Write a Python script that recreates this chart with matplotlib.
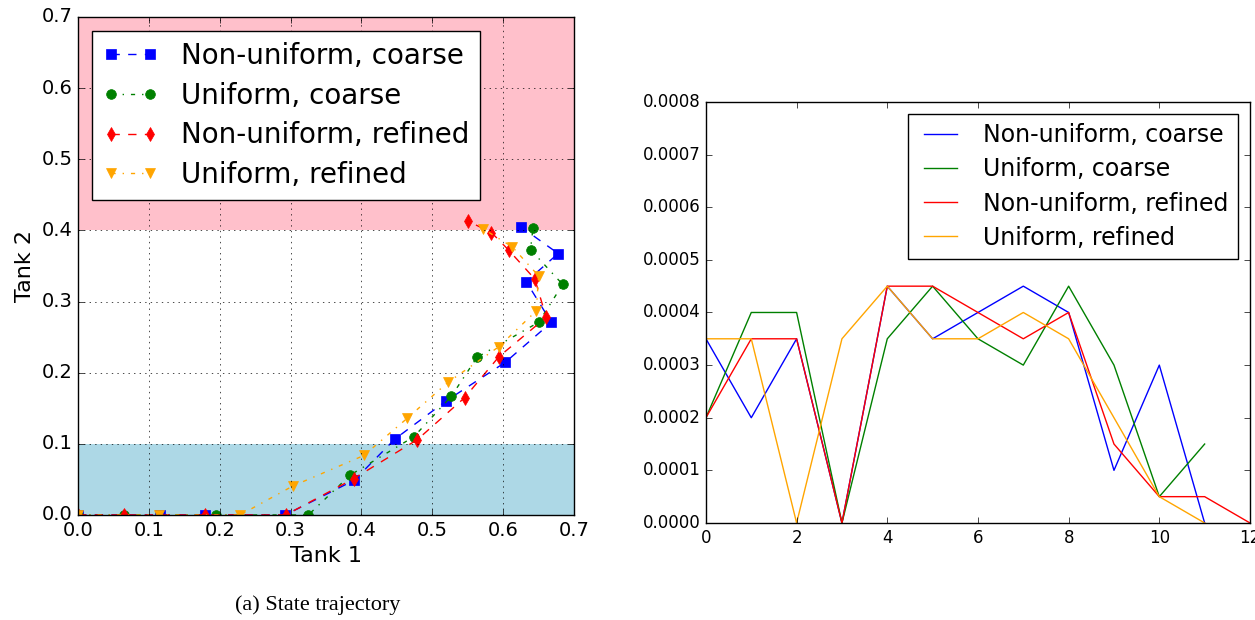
import numpy as np
import matplotlib
matplotlib.use("Agg")
import matplotlib.pyplot as plt

plt.style.use("classic")

# state trajectories (Tank 1, Tank 2)
nu_coarse_x = [0.0, 0.115, 0.179, 0.2925, 0.390, 0.447, 0.519, 0.603, 0.668, 0.6325, 0.6776, 0.625]
nu_coarse_y = [0.0, 0.0, 0.0, 0.0, 0.049, 0.1066, 0.160, 0.2146, 0.2708, 0.328, 0.3675, 0.405]
u_coarse_x = [0.0, 0.065, 0.195, 0.325, 0.384, 0.474, 0.527, 0.563, 0.650, 0.684, 0.6386, 0.642]
u_coarse_y = [0.0, 0.0, 0.0, 0.0, 0.056, 0.110, 0.167, 0.2216, 0.2708, 0.324, 0.373, 0.403]
nu_ref_x = [0.0, 0.065, 0.179, 0.293, 0.389, 0.479, 0.5455, 0.594, 0.6607, 0.6447, 0.608, 0.5835, 0.551]
nu_ref_y = [0.0, 0.0, 0.0, 0.0, 0.051, 0.106, 0.1648, 0.2225, 0.2778, 0.3316, 0.372, 0.397, 0.4127]
u_ref_x = [0.0, 0.1146, 0.2286, 0.3033, 0.4033, 0.4643, 0.522, 0.594, 0.6466, 0.650, 0.6127, 0.572]
u_ref_y = [0.0, 0.0, 0.0, 0.0408, 0.0836, 0.1357, 0.1864, 0.2366, 0.2868, 0.336, 0.377, 0.402]

# right panel series
err_nu_coarse = [0.00035, 0.0002, 0.00035, 0.0, 0.00045, 0.00035, 0.0004, 0.00045, 0.0004, 0.0001, 0.0003, 0.0]
err_u_coarse = [0.0002, 0.0004, 0.0004, 0.0, 0.00035, 0.00045, 0.00035, 0.0003, 0.00045, 0.0003, 0.00005, 0.00015]
err_nu_ref = [0.0002, 0.00035, 0.00035, 0.0, 0.00045, 0.00045, 0.0004, 0.00035, 0.0004, 0.00015, 0.00005, 0.00005, 0.0]
err_u_ref = [0.00035, 0.00035, 0.0, 0.00035, 0.00045, 0.00035, 0.00035, 0.0004, 0.00035, 0.0002, 0.00005, 0.0]

labels = ["Non-uniform, coarse", "Uniform, coarse", "Non-uniform, refined", "Uniform, refined"]

fig = plt.figure(figsize=(12.55, 6.2), dpi=100, facecolor="white")

# --- left: state trajectory
ax = fig.add_axes([0.0622, 0.1694, 0.3952, 0.8032])
ax.axhspan(0.4, 0.7, color="pink", zorder=0, lw=0)
ax.axhspan(0.0, 0.1, color="lightblue", zorder=0, lw=0)
ax.plot(nu_coarse_x, nu_coarse_y, "s--", color="b", mec="b", ms=7, label=labels[0])
ax.plot(u_coarse_x, u_coarse_y, "o-.", color="g", mec="g", ms=7, label=labels[1])
ax.plot(nu_ref_x, nu_ref_y, "d--", color="r", mec="r", ms=7, label=labels[2])
ax.plot(u_ref_x, u_ref_y, "v-.", color="orange", mec="orange", ms=7, label=labels[3])
ax.set_xlim(0, 0.7)
ax.set_ylim(0, 0.7)
ticks = np.arange(0, 0.71, 0.1)
ax.set_xticks(ticks)
ax.set_yticks(ticks)
ax.set_xticklabels(["%.1f" % v for v in ticks])
ax.set_yticklabels(["%.1f" % v for v in ticks])
ax.tick_params(labelsize=14)
ax.grid(True, color="black", linestyle=":")
ax.set_xlabel("Tank 1", fontsize=16)
ax.set_ylabel("Tank 2", fontsize=16)
ax.legend(loc="upper left", fontsize=20, numpoints=2, handlelength=2.0,
          labelspacing=0.42, fancybox=False)

# --- right panel
ax2 = fig.add_axes([0.5625, 0.1565, 0.4335, 0.679])
ax2.plot(range(len(err_nu_coarse)), err_nu_coarse, color="b", label=labels[0])
ax2.plot(range(len(err_u_coarse)), err_u_coarse, color="g", label=labels[1])
ax2.plot(range(len(err_nu_ref)), err_nu_ref, color="r", label=labels[2])
ax2.plot(range(len(err_u_ref)), err_u_ref, color="orange", label=labels[3])
ax2.set_xlim(0, 12)
ax2.set_ylim(0, 0.0008)
ax2.set_xticks(range(0, 13, 2))
yt = np.arange(0, 0.00081, 0.0001)
ax2.set_yticks(yt)
ax2.set_yticklabels(["%.4f" % v for v in yt])
ax2.tick_params(labelsize=12)
ax2.legend(loc="upper right", fontsize=17, numpoints=2, handlelength=2.0,
           labelspacing=0.43, fancybox=False)

fig.text(0.2534, 0.0242, "(a) State trajectory", ha="center", va="center",
         fontsize=16, family="Liberation Serif")

fig.savefig("out.png", dpi=100, facecolor="white")
